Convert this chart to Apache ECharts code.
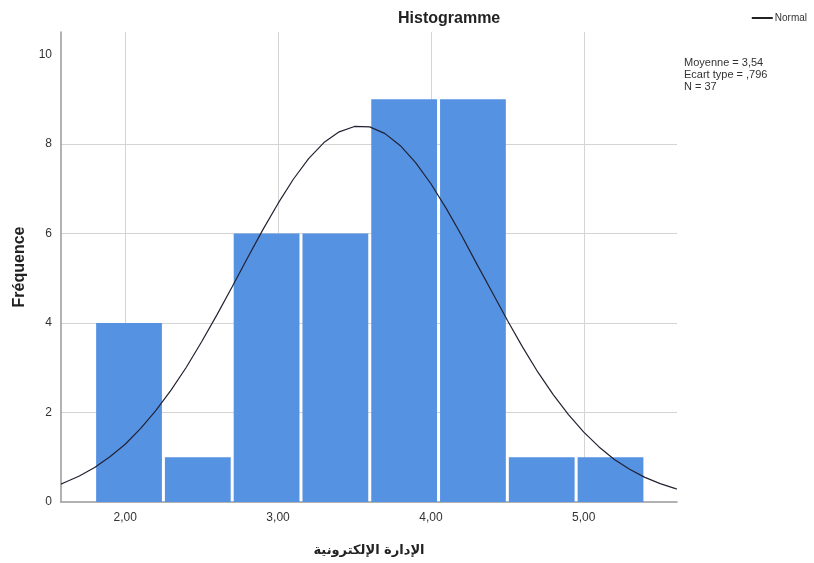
<!DOCTYPE html>
<html>
<head>
<meta charset="utf-8">
<script src="https://cdn.jsdelivr.net/npm/echarts@6/dist/echarts.min.js"></script>
<style>html,body{margin:0;padding:0;background:#fff}#c{width:814px;height:563px}</style>
</head>
<body>
<div id="c"></div>
<script>
// Histogram bins: [start, end]
var binStarts = [1.80, 2.25, 2.70, 3.15, 3.60, 4.05, 4.50, 4.95];
var binEnds   = [2.25, 2.70, 3.15, 3.60, 4.05, 4.50, 4.95, 5.40];
var counts    = [4, 1, 6, 6, 9, 9, 1, 1];
// Normal curve points
var curveX = [1.58, 1.6, 1.7, 1.8, 1.9, 2.0, 2.1, 2.2, 2.3, 2.4, 2.5, 2.6, 2.7, 2.8, 2.9, 3.0, 3.1, 3.2, 3.3, 3.4, 3.5,
              3.6, 3.7, 3.8, 3.9, 4.0, 4.1, 4.2, 4.3, 4.4, 4.5, 4.6, 4.7, 4.8, 4.9, 5.0, 5.1, 5.2, 5.3, 5.4, 5.5, 5.6, 5.61];
var curveY = [0.40, 0.43, 0.58, 0.77, 1.01, 1.29, 1.64, 2.04, 2.50, 3.01, 3.58, 4.18, 4.81, 5.45, 6.08, 6.67, 7.21, 7.67, 8.03, 8.27, 8.39,
              8.38, 8.23, 7.96, 7.58, 7.11, 6.56, 5.96, 5.32, 4.69, 4.06, 3.46, 2.90, 2.40, 1.95, 1.56, 1.23, 0.95, 0.73, 0.55, 0.41, 0.30, 0.29];
var xTicks = [2, 3, 4, 5];
var yTicks = [0, 2, 4, 6, 8, 10];
var statsLines = ['Moyenne = 3,54', 'Ecart type = ,796', 'N = 37'];

var barData = counts.map(function (c, i) { return [binStarts[i], binEnds[i], c]; });
var curveData = curveX.map(function (x, i) { return [x, curveY[i]]; });

var chart = echarts.init(document.getElementById('c'));
chart.setOption({
  animation: false,
  backgroundColor: '#fff',
  title: {
    text: 'Histogramme',
    left: 393, top: 6,
    textStyle: { fontFamily: 'Liberation Sans', fontSize: 16, fontWeight: 'bold', color: '#222' }
  },
  legend: {
    right: 2, top: 8,
    itemWidth: 21, itemHeight: 2, itemGap: 4,
    icon: 'rect',
    textStyle: { fontFamily: 'Liberation Sans', fontSize: 10, color: '#333', padding: [0,0,0,-3] },
    data: [{ name: 'Normal', itemStyle: { color: '#222' } }]
  },
  grid: { left: 61, right: 137, top: 32, bottom: 61 },
  xAxis: {
    type: 'value', min: 1.58, max: 5.61,
    name: 'الإدارة الإلكترونية',
    nameLocation: 'middle', nameGap: 42,
    nameTextStyle: { fontFamily: 'DejaVu Sans', fontSize: 13, fontWeight: 'bold', color: '#222' },
    axisLine: { show: true, lineStyle: { color: '#999', width: 1.5 } },
    axisTick: { show: false, customValues: xTicks },
    axisLabel: {
      customValues: xTicks, margin: 10,
      fontFamily: 'Liberation Sans', fontSize: 12, color: '#333',
      formatter: function (v) { return v.toFixed(2).replace('.', ','); }
    },
    splitLine: { show: true, lineStyle: { color: '#d4d4d4', width: 1 } }
  },
  yAxis: {
    type: 'value', min: 0, max: 10.5,
    name: 'Fréquence', nameLocation: 'middle', nameGap: 32,
    nameTextStyle: { fontFamily: 'Liberation Sans', fontSize: 16, fontWeight: 'bold', color: '#222' },
    axisLine: { show: true, lineStyle: { color: '#999', width: 1.5 } },
    axisTick: { show: false, customValues: yTicks },
    axisLabel: { customValues: yTicks, margin: 9, fontFamily: 'Liberation Sans', fontSize: 12, color: '#333' },
    splitLine: { show: true, showMaxLine: false, showMinLine: false, lineStyle: { color: '#d4d4d4', width: 1 } }
  },
  graphic: statsLines.map(function (t, i) {
    return {
      type: 'text', left: 684, top: 57 + i * 12,
      style: { text: t, fontFamily: 'Liberation Sans', fontSize: 11, fill: '#333' }
    };
  }),
  series: [
    {
      type: 'custom',
      name: 'Histogramme',
      data: barData,
      encode: { x: [0, 1], y: 2 },
      renderItem: function (params, api) {
        var p0 = api.coord([api.value(0), api.value(2)]);
        var p1 = api.coord([api.value(1), 0]);
        return {
          type: 'rect',
          shape: { x: p0[0] + 1.5, y: p0[1], width: p1[0] - p0[0] - 3, height: p1[1] - p0[1] },
          style: { fill: '#5592e2' }
        };
      },
      z: 2
    },
    {
      type: 'line',
      name: 'Normal',
      data: curveData,
      smooth: false,
      showSymbol: false,
      lineStyle: { color: '#222233', width: 1.2 },
      itemStyle: { color: '#222' },
      z: 3
    }
  ]
});
</script>
</body>
</html>
